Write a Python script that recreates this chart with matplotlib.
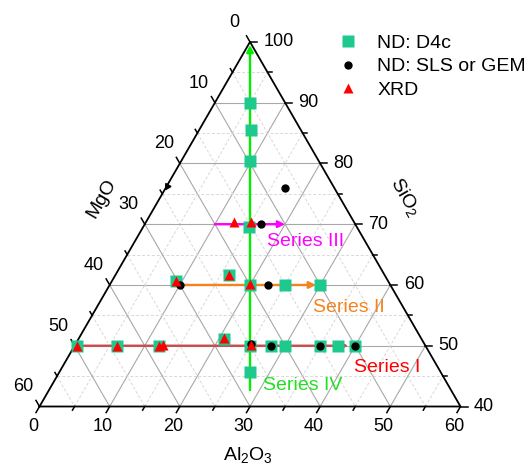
import numpy as np
import matplotlib
matplotlib.use('Agg')
import matplotlib.pyplot as plt

plt.rcParams['font.family'] = ['Liberation Sans', 'DejaVu Sans']
plt.rcParams['mathtext.fontset'] = 'custom'
plt.rcParams['mathtext.rm'] = 'Liberation Sans'
plt.rcParams['mathtext.it'] = 'Liberation Sans:italic'

# ---- Data: compositions as (Al2O3 %, SiO2 %); MgO = 100 - Al2O3 - SiO2 ----
d4c_al = [0.3, 6, 12, 20.7, 25, 28, 30, 35, 37.5, 40,
          9.1, 16.2, 20, 25, 30,
          15,
          5, 7.4, 9.8, 27.2]
d4c_si = [50, 50, 50, 51.1, 50, 50, 50, 50, 50, 50,
          60.6, 61.6, 60, 60, 60,
          69.6,
          90, 85.5, 80.4, 45.6]

sls_al = [10, 22.5, 16.5, 17, 25, 28, 35, 40]
sls_si = [60, 60, 70, 75.9, 50.3, 50, 50, 50]

xrd_al = [0.3, 6, 12, 12.5, 20.7, 25, 9.1, 16.2, 20, 12.5, 15]
xrd_si = [50, 50, 50, 50.1, 51.2, 50.2, 60.7, 61.7, 60.1, 70.3, 70.4]

# series (start, end) in (Al2O3, SiO2)
series_names = ['Series I', 'Series II', 'Series III', 'Series IV']
series_start = [(0, 50), (9.5, 60), (10, 70), (28.65, 42.7)]
series_end = [(39.0, 50), (29.4, 60), (20, 70), (0.25, 99.5)]
series_colors = ['#CC4A4A', '#F5821F', '#FF00FF', '#00EE00']
label_colors = ['#FF0000', '#F5821F', '#FF00FF', '#22E022']

ticks = list(range(0, 61, 10))

# ---- geometry ----
W, H = 528, 466
U = 421 / 60.0
X0, Y0 = 39.5, 406.5
S3 = np.sqrt(3) / 2

fig = plt.figure(figsize=(W / 100, H / 100), dpi=100)
ax = fig.add_axes([0, 0, 1, 1])
ax.set_xlim(-X0 / U, (W - X0) / U)
ax.set_ylim(-(H - Y0) / U, Y0 / U)
ax.axis('off')


def tern(al, si):
    al = np.asarray(al, float)
    si = np.asarray(si, float)
    return al + (si - 40) / 2, (si - 40) * S3


def pix(px, py):
    return (px - X0) / U, (Y0 - py) / U


# grid
for v in range(5, 60, 5):
    if v % 10 == 0:
        st = dict(color='#a8a8a8', lw=0.8, ls='-', zorder=1)
    else:
        st = dict(color='#d8d8d8', lw=0.7, ls=(0, (3, 2)), zorder=1)
    s = 40 + v
    x, y = tern([0, 100 - s], [s, s]); ax.plot(x, y, **st)
    x, y = tern([v, v], [40, 100 - v]); ax.plot(x, y, **st)
    x, y = tern([0, 60 - v], [100 - v, 40]); ax.plot(x, y, **st)

# outline
x, y = tern([0, 60, 0, 0], [40, 40, 100, 40])
ax.plot(x, y, color='black', lw=1.3, zorder=2, solid_joinstyle='miter')

# ticks and tick labels
for v in range(0, 61, 5):
    L = 1.0 if v % 10 == 0 else 0.6
    # bottom (Al2O3)
    px, py = tern(v, 40)
    ax.plot([px, px - 0.5 * L], [py, py - S3 * L], color='black', lw=1.1, zorder=2)
    # left (MgO)
    lx, ly = tern(0, 100 - v)
    ax.plot([lx, lx - 0.5 * L], [ly, ly + S3 * L], color='black', lw=1.1, zorder=2)
    # right (SiO2)
    rx, ry = tern(60 - v, 40 + v)
    ax.plot([rx, rx + L], [ry, ry], color='black', lw=1.1, zorder=2)
    if v in ticks:
        ax.text(px - 0.95, py - 2.85, str(v), ha='center', va='center', fontsize=13)
        ax.text(lx - 2.3, ly + 2.8, str(v), ha='center', va='center', fontsize=13)
        ax.text(rx + 1.9, ry, str(40 + v), ha='left', va='center', fontsize=13)

# small direction marker on MgO axis
mx, my = tern(0, 76.3)
ax.plot([mx], [my], marker=(3, 0, 150), color='black', ms=5, zorder=3)

# axis titles
ax.text(*pix(102, 198), 'MgO', rotation=60, ha='center', va='center', fontsize=14)
ax.text(*pix(405, 197), 'SiO$_2$', rotation=-60, ha='center', va='center', fontsize=14)
ax.text(*pix(248, 455), 'Al$_2$O$_3$', ha='center', va='center', fontsize=14)

# series arrows
for (a0, s0), (a1, s1), c in zip(series_start, series_end, series_colors):
    xs, ys = tern(a0, s0)
    xe, ye = tern(a1, s1)
    ax.annotate('', xy=(xe, ye), xytext=(xs, ys),
                arrowprops=dict(arrowstyle='-|>', color=c, lw=1.7,
                                mutation_scale=10, shrinkA=0, shrinkB=0),
                zorder=3)

# series labels
label_pix = [(354, 367), (313, 307), (267, 241), (263, 386)]
for name, (lpx, lpy), c in zip(series_names, label_pix, label_colors):
    ax.text(*pix(lpx, lpy), name, color=c, ha='left', va='center', fontsize=14)

# markers
x, y = tern(d4c_al, d4c_si)
ax.plot(x, y, ls='none', marker='s', ms=8, color='#1DC98C', mec='none', zorder=4, label='ND: D4c')
x, y = tern(sls_al, sls_si)
ax.plot(x, y, ls='none', marker='o', ms=6, color='black', mec='none', zorder=5, label='ND: SLS or GEM')
x, y = tern(xrd_al, xrd_si)
ax.plot(x, y, ls='none', marker='^', ms=7.5, color='#FF0000', mec='none', zorder=6, label='XRD')

ax.legend(loc='upper left', bbox_to_anchor=(338.3 / W, 1 - 34 / H), frameon=False,
          fontsize=14, handlelength=1.0, handletextpad=1.0, borderpad=0,
          borderaxespad=0, labelspacing=0.32, numpoints=1)

fig.savefig('out.png', dpi=100)
